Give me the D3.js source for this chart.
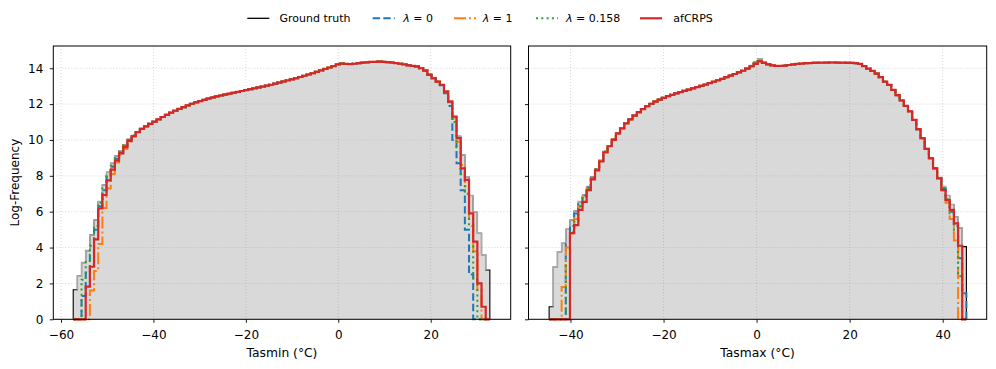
<!DOCTYPE html>
<html>
<head>
<meta charset="utf-8">
<script src="https://cdn.jsdelivr.net/npm/d3@7"></script>
<style>
  html, body { margin: 0; padding: 0; background: #fff; }
  svg { display: block; font-family: "DejaVu Sans", sans-serif; }
</style>
</head>
<body>
<svg id="chart" width="996" height="369"></svg>
<script>
// ---------------- DATA ----------------
const nBins = 100;
const tasminRange = [-57.36, 32.8];
const tasmaxRange = [-44.6, 45.1];

const tasminTruth = [
1.65,2.41,3.16,3.83,4.70,5.54,6.56,7.49,8.20,8.70,
9.11,9.40,9.72,10.04,10.25,10.45,10.62,10.76,10.90,11.02,
11.15,11.28,11.40,11.52,11.63,11.73,11.83,11.93,12.02,12.10,
12.17,12.24,12.31,12.37,12.43,12.48,12.53,12.58,12.63,12.68,
12.73,12.78,12.83,12.88,12.93,12.98,13.03,13.08,13.14,13.20,
13.26,13.32,13.38,13.44,13.51,13.58,13.65,13.72,13.80,13.88,
13.96,14.04,14.12,14.22,14.26,14.24,14.23,14.25,14.28,14.31,
14.33,14.35,14.36,14.37,14.36,14.34,14.32,14.29,14.25,14.21,
14.16,14.13,14.10,14.00,13.87,13.65,13.45,13.26,13.07,12.70,
12.15,11.31,10.20,9.16,7.95,6.90,6.00,4.80,3.60,2.75];

const tasminLam0 = [
0,0,1.30,2.60,3.60,5.00,6.30,7.20,7.95,8.50,
8.95,9.30,9.65,9.98,10.25,10.45,10.62,10.76,10.90,11.02,
11.15,11.28,11.40,11.52,11.63,11.73,11.83,11.93,12.02,12.10,
12.17,12.24,12.31,12.37,12.43,12.48,12.53,12.58,12.63,12.68,
12.73,12.78,12.83,12.88,12.93,12.98,13.03,13.08,13.14,13.20,
13.26,13.32,13.38,13.44,13.51,13.58,13.65,13.72,13.80,13.88,
13.96,14.04,14.12,14.22,14.26,14.24,14.23,14.25,14.28,14.31,
14.33,14.35,14.36,14.37,14.36,14.34,14.32,14.29,14.25,14.21,
14.16,14.13,14.10,14.00,13.87,13.65,13.45,13.26,13.05,12.60,
11.90,10.00,8.70,7.20,5.00,2.50,0,0,0,0];

const tasminLam1 = [
0,0,0,0,1.60,2.70,4.20,6.20,7.30,8.10,
8.75,9.15,9.50,9.90,10.22,10.45,10.62,10.76,10.90,11.02,
11.15,11.28,11.40,11.52,11.63,11.73,11.83,11.93,12.02,12.10,
12.17,12.24,12.31,12.37,12.43,12.48,12.53,12.58,12.63,12.68,
12.73,12.78,12.83,12.88,12.93,12.98,13.03,13.08,13.14,13.20,
13.26,13.32,13.38,13.44,13.51,13.58,13.65,13.72,13.80,13.88,
13.96,14.04,14.12,14.22,14.26,14.24,14.23,14.25,14.28,14.31,
14.33,14.35,14.36,14.37,14.36,14.34,14.32,14.29,14.25,14.21,
14.16,14.13,14.10,14.00,13.87,13.65,13.45,13.26,13.07,12.70,
12.10,11.20,9.90,8.60,7.40,5.60,3.80,1.60,0,0];

const tasminLam0158 = [
0,0,2.20,3.20,4.10,5.20,6.50,7.30,8.00,8.55,
9.00,9.35,9.70,10.00,10.25,10.45,10.62,10.76,10.90,11.02,
11.15,11.28,11.40,11.52,11.63,11.73,11.83,11.93,12.02,12.10,
12.17,12.24,12.31,12.37,12.43,12.48,12.53,12.58,12.63,12.68,
12.73,12.78,12.83,12.88,12.93,12.98,13.03,13.08,13.14,13.20,
13.26,13.32,13.38,13.44,13.51,13.58,13.65,13.72,13.80,13.88,
13.96,14.04,14.12,14.22,14.26,14.24,14.23,14.25,14.28,14.31,
14.33,14.35,14.36,14.37,14.36,14.34,14.32,14.29,14.25,14.21,
14.16,14.13,14.10,14.00,13.87,13.65,13.45,13.26,13.07,12.70,
12.10,11.00,9.60,8.10,7.00,5.20,2.20,0,0,0];

const tasminAfcrps = [
0,0,0,1.82,2.93,4.46,6.19,6.93,7.75,8.35,
8.85,9.25,9.60,9.95,10.20,10.43,10.62,10.76,10.90,11.02,
11.15,11.28,11.40,11.52,11.63,11.73,11.83,11.93,12.02,12.10,
12.17,12.24,12.31,12.37,12.43,12.48,12.53,12.58,12.63,12.68,
12.73,12.78,12.83,12.88,12.93,12.98,13.03,13.08,13.14,13.20,
13.26,13.32,13.38,13.44,13.51,13.58,13.65,13.72,13.80,13.88,
13.96,14.04,14.12,14.22,14.26,14.24,14.23,14.25,14.28,14.31,
14.33,14.35,14.36,14.37,14.36,14.34,14.32,14.29,14.25,14.21,
14.16,14.13,14.10,14.00,13.87,13.63,13.44,13.25,13.07,12.70,
12.14,11.30,10.10,8.42,7.77,5.91,4.33,2.00,0.70,0];

const tasmaxTruth = [
0.70,2.93,3.77,4.24,5.02,5.54,6.04,6.56,6.93,7.40,
7.95,8.37,8.85,9.35,9.67,10.04,10.37,10.65,10.92,11.15,
11.36,11.55,11.72,11.88,12.02,12.14,12.25,12.35,12.44,12.52,
12.60,12.67,12.74,12.81,12.88,12.95,13.02,13.09,13.17,13.25,
13.33,13.41,13.50,13.59,13.68,13.77,13.86,13.98,14.15,14.35,
14.52,14.33,14.22,14.16,14.13,14.13,14.15,14.18,14.21,14.24,
14.26,14.28,14.29,14.30,14.31,14.31,14.31,14.32,14.32,14.31,
14.31,14.30,14.30,14.28,14.24,14.12,13.98,13.85,13.70,13.50,
13.25,13.07,12.79,12.50,12.20,11.90,11.60,11.12,10.60,10.10,
9.52,9.00,8.45,7.90,7.40,6.90,6.40,5.70,5.10,4.05];

const tasmaxLam0 = [
0,0,0,0,4.20,5.20,5.90,6.50,6.90,7.35,
7.90,8.37,8.85,9.35,9.67,10.04,10.37,10.65,10.92,11.15,
11.36,11.55,11.72,11.88,12.02,12.14,12.25,12.35,12.44,12.52,
12.60,12.67,12.74,12.81,12.88,12.95,13.02,13.09,13.17,13.25,
13.33,13.41,13.50,13.59,13.68,13.77,13.86,13.98,14.12,14.28,
14.40,14.32,14.22,14.16,14.13,14.13,14.15,14.18,14.21,14.24,
14.26,14.28,14.29,14.30,14.31,14.31,14.31,14.32,14.32,14.31,
14.31,14.30,14.30,14.28,14.24,14.12,13.98,13.85,13.70,13.50,
13.25,13.07,12.79,12.50,12.20,11.90,11.60,11.12,10.60,10.10,
9.50,8.98,8.42,7.90,7.30,6.70,6.00,5.20,3.40,1.45];

const tasmaxLam1 = [
0,0,0,1.80,4.00,4.80,5.60,6.30,6.80,7.30,
7.85,8.37,8.85,9.35,9.67,10.04,10.37,10.65,10.92,11.15,
11.36,11.55,11.72,11.88,12.02,12.14,12.25,12.35,12.44,12.52,
12.60,12.67,12.74,12.81,12.88,12.95,13.02,13.09,13.17,13.25,
13.33,13.41,13.50,13.59,13.68,13.77,13.86,13.98,14.12,14.28,
14.40,14.32,14.22,14.16,14.13,14.13,14.15,14.18,14.21,14.24,
14.26,14.28,14.29,14.30,14.31,14.31,14.31,14.32,14.32,14.31,
14.31,14.30,14.30,14.28,14.24,14.12,13.98,13.85,13.70,13.50,
13.25,13.07,12.79,12.50,12.20,11.90,11.60,11.12,10.60,10.10,
9.50,8.98,8.42,7.86,7.20,6.50,5.60,4.40,0,0];

const tasmaxLam0158 = [
0,0,0,0,3.00,4.90,5.50,6.30,6.85,7.30,
7.90,8.37,8.85,9.35,9.67,10.04,10.37,10.65,10.92,11.15,
11.36,11.55,11.72,11.88,12.02,12.14,12.25,12.35,12.44,12.52,
12.60,12.67,12.74,12.81,12.88,12.95,13.02,13.09,13.17,13.25,
13.33,13.41,13.50,13.59,13.68,13.77,13.86,13.98,14.12,14.28,
14.40,14.32,14.22,14.16,14.13,14.13,14.15,14.18,14.21,14.24,
14.26,14.28,14.29,14.30,14.31,14.31,14.31,14.32,14.32,14.31,
14.31,14.30,14.30,14.28,14.24,14.12,13.98,13.85,13.70,13.50,
13.25,13.07,12.79,12.50,12.20,11.90,11.60,11.12,10.60,10.10,
9.50,8.98,8.42,7.86,7.25,6.70,5.90,5.00,2.40,0];

const tasmaxAfcrps = [
0,0,0,0,0,4.80,5.25,6.10,6.55,7.20,
7.80,8.30,8.80,9.30,9.65,10.00,10.37,10.65,10.92,11.15,
11.36,11.55,11.72,11.88,12.02,12.14,12.25,12.35,12.44,12.52,
12.60,12.67,12.74,12.81,12.88,12.95,13.02,13.09,13.17,13.25,
13.33,13.41,13.50,13.59,13.68,13.77,13.86,13.98,14.10,14.24,
14.38,14.30,14.22,14.16,14.13,14.13,14.15,14.18,14.21,14.24,
14.26,14.28,14.29,14.30,14.31,14.31,14.31,14.32,14.32,14.31,
14.31,14.30,14.30,14.28,14.24,14.12,13.98,13.85,13.70,13.50,
13.25,13.07,12.79,12.50,12.20,11.90,11.60,11.12,10.60,10.10,
9.50,8.98,8.42,7.86,7.20,6.65,6.10,5.35,4.10,0];

const yTicks = [0, 2, 4, 6, 8, 10, 12, 14];
const tasminTicks = [-60, -40, -20, 0, 20];
const tasmaxTicks = [-40, -20, 0, 20, 40];
const seriesNames = ["Ground truth", "λ = 0", "λ = 1", "λ = 0.158", "afCRPS"];

// ---------------- STYLE / LAYOUT ----------------
const svg = d3.select("#chart");
const plotTop = 46, plotBottom = 319.3;
const yScale = d3.scaleLinear().domain([0, 15.24]).range([plotBottom, plotTop]);

const models = [
  { key: "lam0", color: "#1f77b4", dash: "7.4,3.2", width: 2 },
  { key: "lam1", color: "#ff7f0e", dash: "12,3,2,3", width: 2 },
  { key: "lam0158", color: "#2ca02c", dash: "2,3.3", width: 2 },
  { key: "afcrps", color: "#d62728", dash: null, width: 2.2 }
];

const panels = [
  { x0: 53.3, x1: 510.7, domain: [-61.67, 37.31], range: tasminRange, ticks: tasminTicks,
    label: "Tasmin (°C)", truth: tasminTruth,
    lam0: tasminLam0, lam1: tasminLam1, lam0158: tasminLam0158, afcrps: tasminAfcrps, yLabels: true },
  { x0: 528.5, x1: 986.7, domain: [-49.03, 49.46], range: tasmaxRange, ticks: tasmaxTicks,
    label: "Tasmax (°C)", truth: tasmaxTruth,
    lam0: tasmaxLam0, lam1: tasmaxLam1, lam0158: tasmaxLam0158, afcrps: tasmaxAfcrps, yLabels: false }
];

panels.forEach(p => {
  const x = d3.scaleLinear().domain(p.domain).range([p.x0, p.x1]);
  const edges = d3.range(nBins + 1).map(i => p.range[0] + i * (p.range[1] - p.range[0]) / nBins);
  const g = svg.append("g");

  // grid
  g.append("g").selectAll("line").data(p.ticks).join("line")
    .attr("x1", d => x(d)).attr("x2", d => x(d)).attr("y1", plotTop).attr("y2", plotBottom)
    .attr("stroke", "#b0b0b0").attr("stroke-width", 0.8).attr("stroke-dasharray", "1,2").attr("opacity", 0.6);
  g.append("g").selectAll("line").data(yTicks).join("line")
    .attr("x1", p.x0).attr("x2", p.x1).attr("y1", d => yScale(d)).attr("y2", d => yScale(d))
    .attr("stroke", "#b0b0b0").attr("stroke-width", 0.8).attr("stroke-dasharray", "1,2").attr("opacity", 0.6);

  const stepLine = d3.line().x(d => x(d[0])).y(d => yScale(d[1])).curve(d3.curveStepAfter);
  function stepPoints(vals) {
    const pts = [[edges[0], 0]];
    vals.forEach((v, i) => pts.push([edges[i], v]));
    pts.push([edges[nBins], vals[nBins - 1]]);
    pts.push([edges[nBins], 0]);
    return pts;
  }
  function innerPoints(vals) {
    const pts = [[edges[1], vals[0]]];
    for (let i = 1; i < nBins - 1; i++) pts.push([edges[i], vals[i]]);
    pts.push([edges[nBins - 1], vals[nBins - 1]]);
    return pts;
  }

  // ground truth fill
  g.append("path").attr("d", stepLine(stepPoints(p.truth)) + "Z")
    .attr("fill", "rgb(128,128,128)").attr("fill-opacity", 0.3).attr("stroke", "none");
  // black ground truth line
  g.append("path").attr("d", stepLine(stepPoints(p.truth)))
    .attr("fill", "none").attr("stroke", "#000").attr("stroke-width", 1.1);
  // grey edge
  g.append("path").attr("d", stepLine(innerPoints(p.truth)))
    .attr("fill", "none").attr("stroke", "#a9a9a9").attr("stroke-width", 1.6);

  models.forEach(m => {
    g.append("path").attr("d", stepLine(stepPoints(p[m.key])))
      .attr("fill", "none").attr("stroke", m.color).attr("stroke-width", m.width)
      .attr("stroke-dasharray", m.dash).attr("stroke-linejoin", "miter");
  });

  // frame
  g.append("rect").attr("x", p.x0).attr("y", plotTop).attr("width", p.x1 - p.x0).attr("height", plotBottom - plotTop)
    .attr("fill", "none").attr("stroke", "#000").attr("stroke-width", 1);

  // x axis
  const xAxis = d3.axisBottom(x).tickValues(p.ticks).tickSize(3.5).tickSizeOuter(0).tickPadding(7.5);
  const xa = g.append("g").attr("transform", `translate(0,${plotBottom})`).call(xAxis);
  xa.select(".domain").remove();
  xa.selectAll("line").attr("stroke", "#000").attr("stroke-width", 0.9);
  xa.selectAll("text").attr("font-size", 12).attr("fill", "#000").attr("font-family", "DejaVu Sans");

  // y axis
  const yAxis = d3.axisLeft(yScale).tickValues(yTicks).tickSize(3.5).tickSizeOuter(0).tickPadding(6.5)
    .tickFormat(p.yLabels ? d3.format("d") : () => "");
  const ya = g.append("g").attr("transform", `translate(${p.x0},0)`).call(yAxis);
  ya.select(".domain").remove();
  ya.selectAll("line").attr("stroke", "#000").attr("stroke-width", 0.9);
  ya.selectAll("text").attr("font-size", 12).attr("fill", "#000").attr("font-family", "DejaVu Sans");

  // x label
  g.append("text").attr("x", (p.x0 + p.x1) / 2).attr("y", 356.5).attr("text-anchor", "middle")
    .attr("font-size", 12.3).attr("fill", "#000").text(p.label);
});

// y label
svg.append("text").attr("transform", `translate(18.5,${(plotTop + plotBottom) / 2}) rotate(-90)`)
  .attr("text-anchor", "middle").attr("font-size", 12).attr("fill", "#000").text("Log-Frequency");

// ---------------- LEGEND ----------------
const legendItems = [
  { name: seriesNames[0], color: "#000", dash: null, width: 1.3, lx: 247.3, tx: 279.5 },
  { name: seriesNames[1], color: "#1f77b4", dash: "7.4,3.2", width: 2, lx: 372.7, tx: 403.3, math: true },
  { name: seriesNames[2], color: "#ff7f0e", dash: "12,3,2,3", width: 2, lx: 454, tx: 482.7, math: true },
  { name: seriesNames[3], color: "#2ca02c", dash: "2,3.3", width: 2, lx: 536, tx: 566, math: true },
  { name: seriesNames[4], color: "#d62728", dash: null, width: 2.2, lx: 640, tx: 673.3 }
];
const lg = svg.append("g");
legendItems.forEach(it => {
  lg.append("line").attr("x1", it.lx).attr("x2", it.lx + 22).attr("y1", 18.3).attr("y2", 18.3)
    .attr("stroke", it.color).attr("stroke-width", it.width).attr("stroke-dasharray", it.dash);
  const t = lg.append("text").attr("x", it.tx).attr("y", 22.3).attr("font-size", 11).attr("fill", "#000");
  if (it.math) {
    const parts = it.name.split(" = ");
    t.append("tspan").attr("font-style", "italic").text("λ");
    t.append("tspan").text(" = " + parts[1]);
  } else {
    t.text(it.name);
  }
});
</script>
</body>
</html>
